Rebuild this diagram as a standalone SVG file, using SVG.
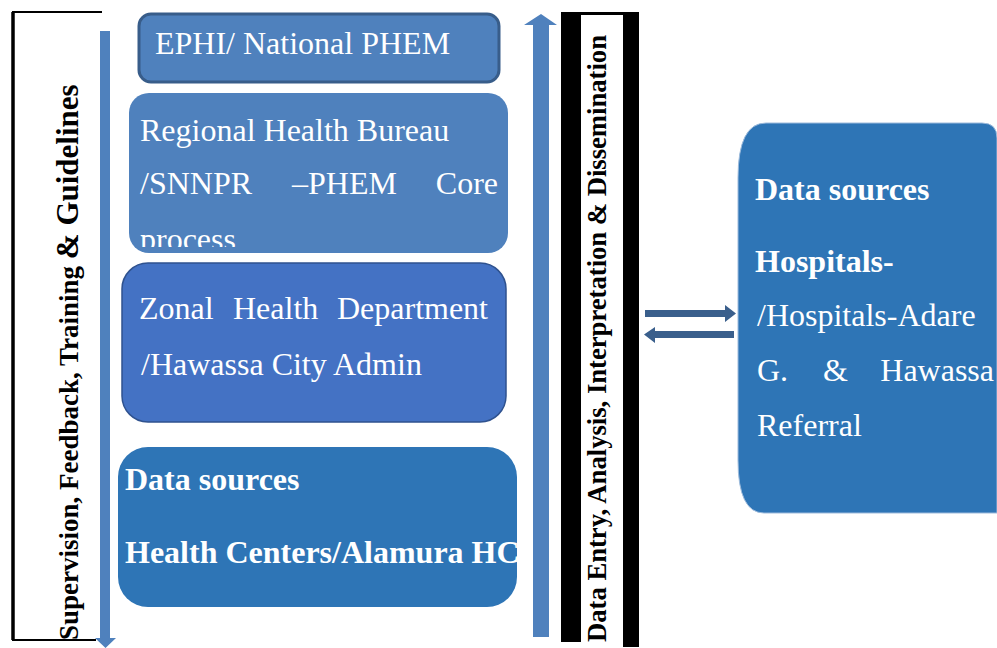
<svg xmlns="http://www.w3.org/2000/svg" width="997" height="648" viewBox="0 0 997 648">
  <defs>
    <style>
      .t { font-family: "Liberation Serif", "Times New Roman", serif; fill: #ffffff; font-size: 32px; }
      .b { font-weight: bold; }
      .v { font-family: "Liberation Serif", "Times New Roman", serif; fill: #000000; font-weight: bold; }
      .flow { fill: #4f81bd; }
      .link { fill: #3a5f8c; }
    </style>
    <clipPath id="rhbClip">
      <rect x="129" y="93" width="379" height="154"/>
    </clipPath>
    <clipPath id="hcClip">
      <rect x="118" y="447" width="399" height="160"/>
    </clipPath>
  </defs>

  <rect width="997" height="648" fill="#ffffff"/>

  <!-- left frame with downward flow label -->
  <g id="supervision">
    <path d="M102,12 H13 V640 H96" fill="none" stroke="#000000" stroke-width="2"/>
    <line x1="13" y1="12" x2="13" y2="640" stroke="#000000" stroke-width="3.5"/>
    <text class="v" transform="translate(78,640) rotate(-90)" font-size="27">Supervision, Feedback, Training <tspan font-size="31">&amp; Guidelines</tspan></text>
  </g>

  <!-- right black band with upward flow label -->
  <g id="data-entry">
    <rect x="561" y="12" width="20" height="630" fill="#000000"/>
    <rect x="623" y="12" width="16" height="635" fill="#000000"/>
    <rect x="581" y="12" width="42" height="3" fill="#000000"/>
    <text class="v" transform="translate(606,642) rotate(-90)" font-size="27" textLength="607" lengthAdjust="spacingAndGlyphs">Data Entry, Analysis, Interpretation &amp; Dissemination</text>
  </g>

  <g id="ephi">
    <rect x="139" y="14" width="360" height="68" rx="12" fill="#4f81bd" stroke="#385d8a" stroke-width="3"/>
    <text class="t" x="155" y="54">EPHI/ National PHEM</text>
  </g>

  <g id="regional">
    <rect x="129" y="93" width="379" height="160" rx="20" fill="#4f81bd"/>
    <g clip-path="url(#rhbClip)">
      <text class="t" x="140" y="141">Regional Health Bureau</text>
      <text class="t" x="140" y="194">/SNNPR</text>
      <text class="t" x="292" y="194">–PHEM</text>
      <text class="t" x="498" y="194" text-anchor="end">Core</text>
      <text class="t" x="140" y="250">process</text>
    </g>
  </g>

  <g id="zonal">
    <rect x="122" y="263" width="384" height="159" rx="26" fill="#4472c4" stroke="#2f528f" stroke-width="1.5"/>
    <text class="t" x="139" y="319">Zonal</text>
    <text class="t" x="233" y="319">Health</text>
    <text class="t" x="488" y="319" text-anchor="end">Department</text>
    <text class="t" x="141" y="375">/Hawassa City Admin</text>
  </g>

  <g id="health-centers">
    <rect x="118" y="447" width="399" height="160" rx="30" fill="#2e75b6"/>
    <g clip-path="url(#hcClip)">
      <text class="t b" x="125" y="490">Data sources</text>
      <text class="t b" x="125" y="563">Health Centers/Alamura HC</text>
    </g>
  </g>

  <g id="hospitals">
    <path d="M766,123 H982 Q997,123 997,138 V513 H764 Q738,513 738,460 V178 Q738,123 766,123 Z" fill="#2e75b6" stroke="#9dbbdc" stroke-width="1"/>
    <text class="t b" x="755" y="200">Data sources</text>
    <text class="t b" x="755" y="272">Hospitals-</text>
    <text class="t" x="757" y="326">/Hospitals-Adare</text>
    <text class="t" x="757" y="381">G.</text>
    <text class="t" x="823" y="381">&amp;</text>
    <text class="t" x="994" y="381" text-anchor="end">Hawassa</text>
    <text class="t" x="757" y="436">Referral</text>
  </g>

  <g id="connectors">
    <!-- downward supervision arrow -->
    <path class="flow" d="M100,31 H110 V638 H116 L105.5,648 L95,638 H100 Z"/>
    <!-- upward reporting arrow -->
    <path class="flow" d="M533,637 V25 H524 L541,14 L557,25 H549 V637 Z"/>
    <!-- exchange with hospitals -->
    <path class="link" d="M645,310 H725 V305 L736,313.5 L725,322 V317 H645 Z"/>
    <path class="link" d="M734,331 H655 V327 L644,334.5 L655,343 V338 H734 Z"/>
  </g>
</svg>
